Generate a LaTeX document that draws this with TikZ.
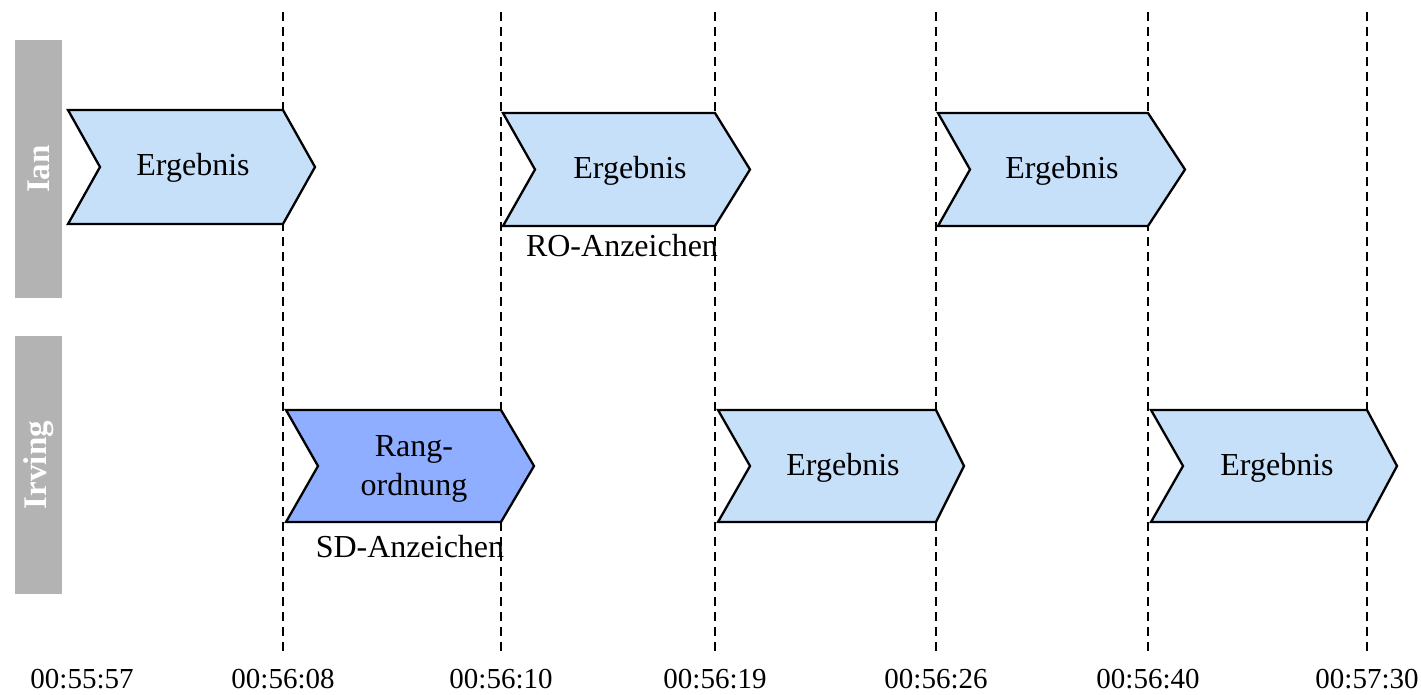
\documentclass[tikz,border=0pt]{standalone}
\usepackage{fontspec}
\setmainfont{Liberation Serif}
\begin{document}
\begin{tikzpicture}[x=1pt,y=-1pt,
  lane/.style={fill=laneGrey, draw=none},
  lanetext/.style={text=white, font=\fontsize{33}{35}\selectfont\bfseries, rotate=90},
  chevline/.style={draw=black, line width=2.3pt, line join=miter},
  txt/.style={font=\fontsize{32}{39}\selectfont, inner sep=0pt, align=center},
  timetxt/.style={font=\fontsize{29}{32}\selectfont, inner sep=0pt},
  tick/.style={draw=black, line width=1.8pt, dash pattern=on 9pt off 6pt},
  lightchev/.style={chevline, fill=chevLight},
  darkchev/.style={chevline, fill=chevDark}]
\definecolor{laneGrey}{HTML}{B3B3B3}
\definecolor{chevLight}{HTML}{C7E0F9}
\definecolor{chevDark}{HTML}{8FAEFF}
\useasboundingbox (0,0) rectangle (1421,694);

% swimlane headers
\fill[lane] (15,40) rectangle (62,298);
\node[lanetext] (ian) at (38.5,169) {Ian};
\fill[lane] (15,336) rectangle (62,594);
\node[lanetext] (irving) at (38.5,465) {Irving};

% time axis labels
\foreach \x/\t/\n in {82/00:55:57/t0, 283/00:56:08/t1, 501/00:56:10/t2, 715/00:56:19/t3,
                      936/00:56:26/t4, 1148/00:56:40/t5, 1367/00:57:30/t6}
  \node[timetxt] (\n) at (\x,679) {\t};

% dashed time markers
\foreach \x/\n in {283/t1, 501/t2, 715/t3, 936/t4, 1148/t5, 1367/t6} {
  \coordinate (\n top) at (\x,12);
  \draw[tick] (\n top) -- (\n.north |- 0,651);
}

% chevron: #1 style, #2 left, #3 right, #4 top, #5 bottom, #6 tip depth
\newcommand{\chevshape}[6]{%
  \path[#1] (#2,#4) -- (#3,#4) -- (#3+#6,{(#4+#5)/2}) -- (#3,#5) -- (#2,#5)
    -- (#2+32,{(#4+#5)/2}) -- cycle;}

% Ian
\chevshape{lightchev}{68}{283}{110}{224}{32}
\node[txt] (ian1) at (193,168) {Ergebnis};
\chevshape{lightchev}{503}{715}{113}{226}{35}
\node[txt] (ian2) at (630,171) {Ergebnis};
\node[txt] (ro) at (622,246) {RO-Anzeichen};
\chevshape{lightchev}{938}{1148}{113}{226}{37}
\node[txt] (ian3) at (1062,171) {Ergebnis};

% Irving
\chevshape{darkchev}{286}{501}{410}{522}{33}
\node[txt] (irv1) at (414,469) {Rang-\\ordnung};
\node[txt] (sd) at (410,547) {SD-Anzeichen};
\chevshape{lightchev}{718}{936}{410}{522}{28}
\node[txt] (irv2) at (843,468) {Ergebnis};
\chevshape{lightchev}{1151}{1367}{410}{522}{30}
\node[txt] (irv3) at (1277,468) {Ergebnis};
\end{tikzpicture}
\end{document}
